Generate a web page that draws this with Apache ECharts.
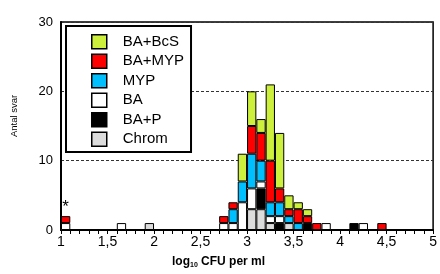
<!DOCTYPE html>
<html>
<head>
<meta charset="utf-8">
<script src="https://cdn.jsdelivr.net/npm/echarts@6/dist/echarts.min.js"></script>
<style>
  html, body { margin: 0; padding: 0; background: #fff; }
  #chart { width: 440px; height: 274px; }
</style>
</head>
<body>
<div id="chart"></div>
<script>
// start of each 0.1 log-bin that has answers
var binStarts = [1.0, 1.6, 1.9, 2.7, 2.8, 2.9, 3.0, 3.1, 3.2, 3.3, 3.4, 3.5, 3.6, 3.7, 3.8, 4.1, 4.2, 4.4];
// counts per bin (same order as binStarts), stacked bottom -> top
var chrom = [0, 0, 1, 0, 0, 0, 3, 3, 1, 0, 1, 0, 0, 0, 0, 0, 0, 0];
var baP   = [0, 0, 0, 0, 0, 0, 0, 3, 0, 1, 0, 0, 1, 0, 0, 1, 0, 0];
var ba    = [1, 1, 0, 1, 1, 4, 3, 1, 1, 1, 0, 0, 0, 0, 1, 0, 1, 0];
var myp   = [0, 0, 0, 0, 2, 3, 5, 3, 2, 2, 1, 1, 0, 0, 0, 0, 0, 0];
var baMyp = [1, 0, 0, 1, 1, 0, 4, 4, 6, 2, 1, 2, 1, 1, 0, 0, 0, 1];
var baBcs = [0, 0, 0, 0, 0, 4, 5, 2, 11, 8, 2, 1, 1, 0, 0, 0, 0, 0];
var starBins = [1.0];   // bins marked with *

var yTicks = [0, 10, 20, 30];

var myChart = echarts.init(document.getElementById('chart'));

// 40 bins of 0.1 from 1.0 to 5.0
var categories = [];
for (var i = 0; i < 40; i++) categories.push((1 + i * 0.1).toFixed(1));

function spread(vals, withStar) {
    var out = categories.map(function () { return '-'; });
    binStarts.forEach(function (b, k) {
        var idx = categories.indexOf(b.toFixed(1));
        if (vals[k] > 0) {
            var item = { value: vals[k] };
            if (withStar && starBins.indexOf(b) >= 0) {
                item.label = { show: true, position: 'top', formatter: '*', distance: 0,
                    fontSize: 17, color: '#000', fontFamily: 'Liberation Sans' };
            }
            out[idx] = item;
        }
    });
    return out;
}

function mk(name, color, vals, star) {
    return {
        name: name,
        type: 'bar',
        stack: 'svar',
        xAxisIndex: 0,
        barCategoryGap: '0%',
        itemStyle: { color: color, borderColor: '#000', borderWidth: 1 },
        emphasis: { disabled: true },
        data: spread(vals, star)
    };
}

var option = {
    animation: false,
    textStyle: { fontFamily: 'Liberation Sans' },
    grid: {
        left: 61, right: 2, top: 22, bottom: 40,
        show: true, borderColor: '#000', borderWidth: 1.5, backgroundColor: 'transparent'
    },
    legend: {
        orient: 'vertical',
        left: 66, top: 26,
        data: ['BA+BcS', 'BA+MYP', 'MYP', 'BA', 'BA+P', 'Chrom'],
        backgroundColor: '#fff',
        borderColor: '#000',
        borderWidth: 2,
        borderRadius: 0,
        padding: [8, 7, 5, 25],
        itemWidth: 15,
        itemHeight: 14,
        itemGap: 4,
        icon: 'rect',
        itemStyle: { borderColor: '#000', borderWidth: 1.5 },
        textStyle: { fontSize: 15, color: '#000', padding: [0, 0, 0, 11] }
    },
    xAxis: [{
        type: 'category',
        data: categories,
        show: false
    }, {
        type: 'value',
        min: 1, max: 5, interval: 0.5,
        position: 'bottom',
        axisLine: { lineStyle: { color: '#000', width: 2 } },
        axisTick: { show: true, length: 4, lineStyle: { color: '#000' } },
        minorTick: { show: true, splitNumber: 5, length: 4, lineStyle: { color: '#000' } },
        splitLine: { show: false },
        axisLabel: {
            fontSize: 14, color: '#000', margin: 5,
            formatter: function (v) { return String(+v.toFixed(1)).replace('.', ','); }
        },
        name: '{a|log}{b|10}{a| CFU per ml}',
        nameLocation: 'middle',
        nameGap: 25,
        nameTextStyle: {
            padding: [0, 57, 0, 0],
            rich: {
                a: { fontSize: 12, fontWeight: 'bold', color: '#000' },
                b: { fontSize: 7, fontWeight: 'bold', color: '#000', padding: [7, 0, 0, 0] }
            }
        }
    }],
    yAxis: {
        type: 'value',
        min: yTicks[0], max: yTicks[yTicks.length - 1], interval: 10,
        axisLine: { show: true, lineStyle: { color: '#000', width: 2 } },
        axisTick: { show: false },
        axisLabel: { fontSize: 13, color: '#000', margin: 8 },
        splitLine: { show: true, lineStyle: { color: '#333', type: [3, 2], width: 1 } },
        name: 'Antal svar',
        nameLocation: 'middle',
        nameGap: 42,
        nameTextStyle: { fontSize: 9.5, color: '#000', padding: [0, 0, 0, 20] }
    },
    series: [
        mk('Chrom', '#dcdcdc', chrom),
        mk('BA+P', '#000000', baP),
        mk('BA', '#ffffff', ba),
        mk('MYP', '#00bfff', myp),
        mk('BA+MYP', '#ff0000', baMyp, true),
        mk('BA+BcS', '#ccf03c', baBcs)
    ]
};
myChart.setOption(option);
</script>
</body>
</html>
